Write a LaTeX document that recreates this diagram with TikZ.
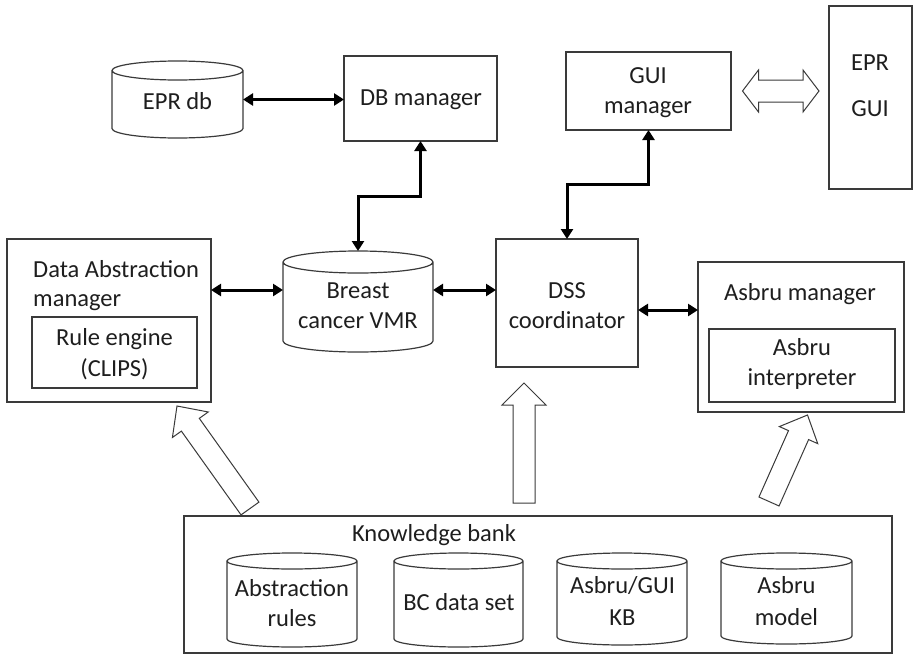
\documentclass[tikz,border=0pt]{standalone}
\usepackage{fontspec}
\setmainfont{Carlito}
\usetikzlibrary{arrows.meta,calc}
\definecolor{edge}{HTML}{3A3A3A}
\definecolor{ink}{HTML}{1E1E1E}

% stacked lines: the first baseline is the box baseline
\newcommand\stackc[2][30pt]{\vtop{\baselineskip=#1\lineskiplimit=-100pt\lineskip=0pt\halign{\hfil##\hfil\cr#2\crcr}}}
\newcommand\stackl[2][30pt]{\vtop{\baselineskip=#1\lineskiplimit=-100pt\lineskip=0pt\halign{##\hfil\cr#2\crcr}}}

% storage drum drawn around a named node; #2 = rim half-height
\newcommand\drum[2]{%
  \draw[rim] let \p1=(#1.north west), \p2=(#1.south east), \n1={(\x2-\x1)/2} in
    (\x1,\y1-#2) -- (\x1,\y2+#2)
    arc[start angle=180,end angle=360,x radius=\n1,y radius=#2]
    -- (\x2,\y1-#2)
    arc[start angle=0,end angle=360,x radius=\n1,y radius=#2];}

% outlined block arrow from #1 (tail) to #2 (tip)
% #3 shaft half width, #4 head half width, #5 head length
\newcommand\hollowarrow[5]{%
  \coordinate (#1-hb) at ($(#2)!#5!(#1)$);
  \draw[hollow] ($(#1)!#3!90:(#2)$) -- ($(#1-hb)!#3!90:(#2)$)
    -- ($(#1-hb)!#4!90:(#2)$) -- (#2) -- ($(#1-hb)!#4!-90:(#2)$)
    -- ($(#1-hb)!#3!-90:(#2)$) -- ($(#1)!#3!-90:(#2)$) -- cycle;}

% outlined block arrow with heads at both ends
\newcommand\hollowboth[5]{%
  \coordinate (#1-ha) at ($(#1)!#5!(#2)$);
  \coordinate (#2-hb) at ($(#2)!#5!(#1)$);
  \draw[hollow] (#1) -- ($(#1-ha)!#4!90:(#2)$) -- ($(#1-ha)!#3!90:(#2)$)
    -- ($(#2-hb)!#3!-90:(#1)$) -- ($(#2-hb)!#4!-90:(#1)$) -- (#2)
    -- ($(#2-hb)!#4!90:(#1)$) -- ($(#2-hb)!#3!90:(#1)$)
    -- ($(#1-ha)!#3!-90:(#2)$) -- ($(#1-ha)!#4!-90:(#2)$) -- cycle;}

\begin{document}
\begin{tikzpicture}[x=1pt,y=-1pt,
  font=\fontsize{24.5}{30}\selectfont,
  blk/.style={draw=edge, line width=1.2pt, inner sep=0pt, outer sep=0pt},
  drumbox/.style={inner sep=0pt, outer sep=0pt},
  rim/.style={draw=edge, line width=1.2pt},
  txt/.style={anchor=base, inner sep=0pt, text=ink},
  link/.style={line width=3pt, draw=black,
    arrows={Triangle[length=10pt,width=12pt]-Triangle[length=10pt,width=12pt]}},
  hollow/.style={draw=edge, line width=1pt, fill=white, line join=miter}]

\useasboundingbox (0,0) rectangle (914,654);

% ---------- rectangular blocks ----------
\node[blk, minimum width=153pt, minimum height=85pt]  (dbm)    at (420.5,98.5) {};
\node[blk, minimum width=165pt, minimum height=78pt]  (gui)    at (648.5,91)   {};
\node[blk, minimum width=83pt,  minimum height=183pt] (eprgui) at (870.5,97.5) {};
\node[blk, minimum width=204pt, minimum height=163pt] (da)     at (109,320.5)  {};
\node[blk, minimum width=165pt, minimum height=71pt]  (rule)   at (114.5,352.5){};
\node[blk, minimum width=142pt, minimum height=128pt] (dss)    at (567,303)    {};
\node[blk, minimum width=206pt, minimum height=150pt] (asb)    at (801,337)    {};
\node[blk, minimum width=186pt, minimum height=73pt]  (interp) at (802,365.5)  {};
\node[blk, minimum width=708pt, minimum height=137pt] (kb)     at (538,584.5)  {};

% ---------- storage drums ----------
\node[drumbox, minimum width=131pt, minimum height=77pt]  (eprdb) at (177.5,99.5) {};
\node[drumbox, minimum width=150pt, minimum height=101pt] (vmr)   at (358,301.5)  {};
\node[drumbox, minimum width=130pt, minimum height=94pt]  (abs)   at (292,600)    {};
\node[drumbox, minimum width=129pt, minimum height=94pt]  (bcd)   at (458.5,600)  {};
\node[drumbox, minimum width=130pt, minimum height=92pt]  (agk)   at (622,599)    {};
\node[drumbox, minimum width=131pt, minimum height=91pt]  (amod)  at (786.5,598.5){};
\drum{eprdb}{9.5pt}
\drum{vmr}{11pt}
\drum{abs}{8pt}
\drum{bcd}{8pt}
\drum{agk}{8pt}
\drum{amod}{8pt}

% ---------- labels ----------
\node[txt] (t-eprdb)  at (177.5,109) {EPR db};
\node[txt] (t-dbm)    at (421,105)   {DB manager};
\node[txt] (t-gui)    at (648,83)    {\stackc{GUI\cr manager}};
\node[txt] (t-eprgui) at (870,70)    {\stackc[46pt]{EPR\cr GUI}};
\node[txt, anchor=base west] (t-da) at (33,277) {\stackl[29pt]{Data Abstraction\cr manager}};
\node[txt] (t-rule)   at (114.5,345) {\stackc[31pt]{Rule engine\cr (CLIPS)}};
\node[txt] (t-vmr)    at (358,298)   {\stackc{Breast\cr cancer VMR}};
\node[txt] (t-dss)    at (567,298.5) {\stackc{DSS\cr coordinator}};
\node[txt] (t-asb)    at (800,300)   {Asbru manager};
\node[txt] (t-interp) at (802,355)   {\stackc{Asbru\cr interpreter}};
\node[txt] (t-kb)     at (434,541.5) {Knowledge bank};
\node[txt] (t-abs)    at (292,596.5) {\stackc{Abstraction\cr rules}};
\node[txt] (t-bcd)    at (459,610)   {BC data set};
\node[txt] (t-agk)    at (622.5,593) {\stackc[32pt]{Asbru/GUI\cr KB}};
\node[txt] (t-amod)   at (786.5,593) {\stackc[32pt]{Asbru\cr model}};

% ---------- data links ----------
\coordinate (rowa) at (0,290);
\coordinate (rowb) at (0,310);
\draw[link] (eprdb.east) -- (eprdb.east -| dbm.west);
\draw[link] (dbm.south) |- ($(dbm.south)!0.5!(vmr.north)$) -| (vmr.north);
\draw[link] (gui.south) |- ($(gui.south)!0.5!(dss.north)$) -| (dss.north);
\draw[link] (da.east |- rowa) -- (vmr.west |- rowa);
\draw[link] (vmr.east |- rowa) -- (dss.west |- rowa);
\draw[link] (dss.east |- rowb) -- (asb.west |- rowb);

% ---------- knowledge flows ----------
\coordinate (kl) at (250,508.5);
\coordinate (kl-tip) at (177,406);
\coordinate (kc) at (524,503);
\coordinate (kc-tip) at (524,383);
\coordinate (kr) at (769,501.5);
\coordinate (kr-tip) at (807.5,415);
\hollowarrow{kl}{kl-tip}{11pt}{22pt}{23pt}
\hollowarrow{kc}{kc-tip}{11pt}{22pt}{22pt}
\hollowarrow{kr}{kr-tip}{11pt}{21pt}{22pt}

\coordinate (gl) at (742.5,91);
\coordinate (gr) at (819,91);
\hollowboth{gl}{gr}{11pt}{21pt}{16pt}
\end{tikzpicture}
\end{document}
